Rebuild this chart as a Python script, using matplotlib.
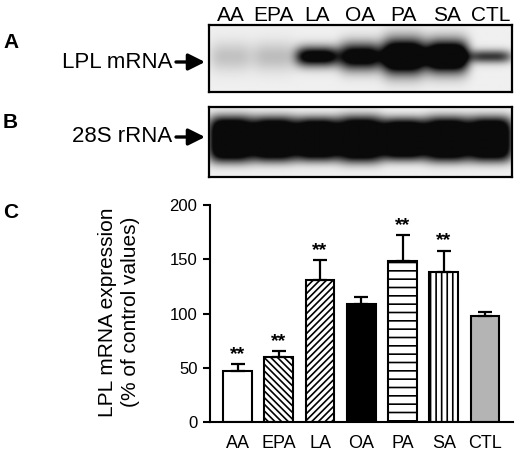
import numpy as np
import matplotlib.pyplot as plt

plt.rcParams['font.family'] = ['Liberation Sans', 'DejaVu Sans']
plt.rcParams['hatch.linewidth'] = 1.2

# lanes / groups
lanes = ['AA', 'EPA', 'LA', 'OA', 'PA', 'SA', 'CTL']

# panel C: LPL mRNA expression (% of control), mean and SEM
means = [47, 60, 131, 109, 148, 138, 98]
sems = [6, 5, 18, 6, 24, 20, 3]
signif = ['**', '**', '**', '', '**', '**', '']

# blot band strength per lane (0 none, >=1 saturated) and band half thickness
lpl_band = [0.2, 0.22, 1.25, 1.3, 1.8, 1.8, 0.8]
lpl_thick = [0.22, 0.22, 0.15, 0.2, 0.25, 0.23, 0.1]
rrna_band = [1.5, 1.5, 1.5, 1.5, 1.5, 1.5, 1.5]
rrna_thick = [0.33, 0.32, 0.31, 0.33, 0.3, 0.32, 0.32]

# bar styles
fills = ['white', 'white', 'white', 'black', 'white', 'white', '#b4b4b4']
hatches = ['', '\\\\\\\\\\', '/////', '', '--', '|||', '']

W, H = 520, 451
fig = plt.figure(figsize=(W / 100, H / 100), dpi=100)


def box(l, t, r, b):
    # pixel box -> figure fraction rect
    return [l / W, 1 - b / H, (r - l) / W, (b - t) / H]


def fx(px):
    return px / W


def fy(py):
    return 1 - py / H


def draw_blot(ax, dark, thick, yc, xw, ypow):
    xs = np.linspace(-0.5, 6.5, 700)
    ys = np.linspace(0, 1, 160)
    X, Y = np.meshgrid(xs, ys)
    D = np.zeros_like(X)
    for i in range(len(dark)):
        D += dark[i] * np.exp(-((X - i) / xw) ** 4) * np.exp(-np.abs((Y - yc) / thick[i]) ** ypow)
    D = np.clip(D, 0, 1)
    img = 0.94 - 0.9 * D
    ax.imshow(img, cmap='gray', vmin=0, vmax=1, extent=(-0.5, 6.5, 0, 1),
              origin='lower', aspect='auto', interpolation='bilinear')
    ax.set_xlim(-0.5, 6.5)
    ax.set_ylim(0, 1)
    ax.set_xticks([])
    ax.set_yticks([])
    for s in ax.spines.values():
        s.set_linewidth(1.6)


# panel A
axA = fig.add_axes(box(209, 25, 512, 92))
draw_blot(axA, lpl_band, lpl_thick, 0.53, 0.5, 2)
for i, name in enumerate(lanes):
    axA.text(i, 1.0, name, transform=axA.get_xaxis_transform(), ha='center',
             va='bottom', fontsize=15)

# panel B
axB = fig.add_axes(box(209, 107, 512, 177))
draw_blot(axB, rrna_band, rrna_thick, 0.54, 0.52, 4)

# blot labels with arrows
for label, py in [('LPL mRNA', 62), ('28S rRNA', 137)]:
    fig.text(fx(172), fy(py), label, ha='right', va='center', fontsize=16)
    fig.add_artist(plt.Annotation(
        '', xy=(fx(205), fy(py)), xytext=(fx(176), fy(py)),
        xycoords='figure fraction', textcoords='figure fraction',
        arrowprops=dict(arrowstyle='-|>,head_length=1.0,head_width=0.5',
                        lw=2.4, color='black', shrinkA=0, shrinkB=0,
                        mutation_scale=10)))

# panel letters
for letter, py in [('A', 43), ('B', 123), ('C', 212)]:
    fig.text(fx(3), fy(py), letter, ha='left', va='center', fontsize=15,
             fontweight='bold')

# panel C bar chart
ax = fig.add_axes(box(210, 205, 513, 422))
x = np.arange(len(lanes))
bars = ax.bar(x, means, width=0.7, color=fills, edgecolor='black', linewidth=1.5)
for b, h in zip(bars, hatches):
    b.set_hatch(h)
ax.errorbar(x, means, yerr=[np.zeros(len(x)), sems], fmt='none', ecolor='black',
            elinewidth=1.6, capsize=5, capthick=1.6)
for xi, m, e, s in zip(x, means, sems, signif):
    if s:
        ax.annotate(s, (xi, m + e), xytext=(0, 1), textcoords='offset points',
                    ha='center', va='bottom', fontsize=14, fontweight='bold')

ax.set_xlim(-0.67, 6.68)
ax.set_ylim(0, 200)
ax.set_yticks([0, 50, 100, 150, 200])
ax.set_xticks(x, lanes)
ax.spines['top'].set_visible(False)
ax.spines['right'].set_visible(False)
ax.spines['left'].set_linewidth(1.5)
ax.spines['bottom'].set_linewidth(1.5)
ax.tick_params(axis='y', direction='out', length=5, width=1.5, labelsize=12, pad=4)
ax.tick_params(axis='x', length=0, labelsize=13, pad=9)

fig.text(fx(119), fy(312), 'LPL mRNA expression\n(% of control values)',
         rotation=90, ha='center', va='center', fontsize=15, linespacing=1.3)

fig.savefig('out.png', dpi=100)
